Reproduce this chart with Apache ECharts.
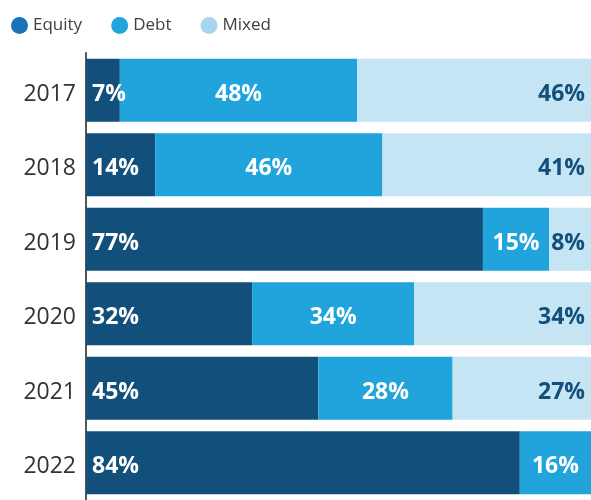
<!DOCTYPE html>
<html>
<head>
<meta charset="utf-8">
<script src="https://cdn.jsdelivr.net/npm/echarts@6/dist/echarts.min.js"></script>
<style>
html, body { margin: 0; padding: 0; background: #fff; }
#chart { width: 591px; height: 500px; }
</style>
</head>
<body>
<div id="chart"></div>
<script>
// categories, top to bottom
const years = ['2017', '2018', '2019', '2020', '2021', '2022'];
// bar lengths (share of the row, %)
const equity = [6.7, 13.7, 78.6, 32.9, 46.0, 85.9];
const debt = [47.0, 45.0, 13.1, 32.1, 26.6, 14.1];
const mixed = [46.3, 41.3, 8.3, 35.0, 27.4, 0];
// printed percentages
const equityText = ['7%', '14%', '77%', '32%', '45%', '84%'];
const debtText = ['48%', '46%', '15%', '34%', '28%', '16%'];
const mixedText = ['46%', '41%', '8%', '34%', '27%', ''];

const font = '"Open Sans", "DejaVu Sans", sans-serif';

// one stacked series
const makeSeries = (name, values, texts, color, textColor, pos) => ({
    name: name,
    type: 'bar',
    stack: 'total',
    barWidth: 63,
    itemStyle: { color: color },
    label: {
        show: true,
        position: pos,
        distance: 6,
        offset: [0, 4],
        color: textColor,
        fontFamily: font,
        fontWeight: 'bold',
        fontSize: 23,
        formatter: p => texts[p.dataIndex]
    },
    emphasis: { disabled: true },
    data: values
});

const chart = echarts.init(document.getElementById('chart'));
chart.setOption({
    animation: false,
    textStyle: { fontFamily: font },
    legend: {
        left: 6,
        top: 12,
        icon: 'circle',
        itemWidth: 17,
        itemHeight: 17,
        itemGap: 29,
        textStyle: { fontSize: 17, color: '#404040', fontFamily: font },
        data: [
            { name: 'Equity', itemStyle: { color: '#1a73b8' } },
            { name: 'Debt', itemStyle: { color: '#23a4dd' } },
            { name: 'Mixed', itemStyle: { color: '#a6d6ef' } }
        ]
    },
    grid: { left: 86, right: 0, top: 53, bottom: -3 },
    xAxis: { type: 'value', min: 0, max: 100, show: false },
    yAxis: {
        type: 'category',
        inverse: true,
        data: years,
        axisLine: { show: true, lineStyle: { color: '#555', width: 2 } },
        axisTick: { show: false },
        axisLabel: {
            margin: 10,
            formatter: '{y|{value}}',
            rich: {
                y: { fontSize: 23, fontWeight: 500, color: '#333', fontFamily: font, padding: [8, 0, 0, 0] }
            }
        }
    },
    series: [
        makeSeries('Equity', equity, equityText, '#124f7b', '#fff', 'insideLeft'),
        makeSeries('Debt', debt, debtText, '#21a3db', '#fff', 'inside'),
        makeSeries('Mixed', mixed, mixedText, '#c5e4f4', '#124f7b', 'insideRight')
    ]
});
</script>
</body>
</html>
